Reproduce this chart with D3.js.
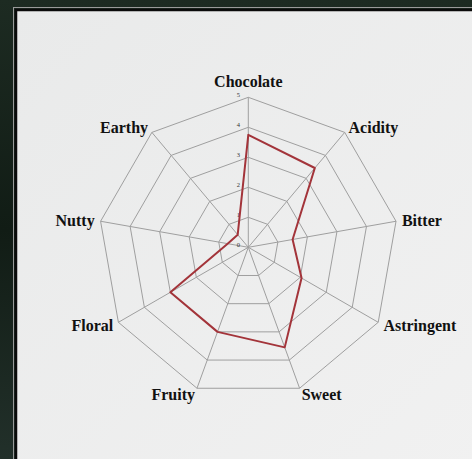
<!DOCTYPE html>
<html>
<head>
<meta charset="utf-8">
<script src="https://cdn.jsdelivr.net/npm/d3@7"></script>
<style>
  body { margin: 0; background: #17241c; }
  svg { display: block; }
</style>
</head>
<body>
<div id="radar"></div>
<script>
// flavour profile
const categories = ["Chocolate", "Acidity", "Bitter", "Astringent", "Sweet", "Fruity", "Floral", "Nutty", "Earthy"];
const values = [3.75, 3.45, 1.5, 2.05, 3.55, 3.0, 3.0, 0.7, 0.55];
const tickLabels = [0, 1, 2, 3, 4, 5];

var width = 472,
  height = 459,
  cx = 248.3,
  cy = 247.3;

var r = d3.scaleLinear().domain([0, 5]).range([0, 150]);
var angle = d3.scaleLinear().domain([0, categories.length]).range([0, 2 * Math.PI]);

const svg = d3.select("#radar")
  .append("svg")
  .attr("width", width)
  .attr("height", height);

// dark backdrop + light panel
const defs = svg.append("defs");
const bg = defs.append("linearGradient").attr("id", "bg").attr("x1", 0).attr("y1", 0).attr("x2", 0).attr("y2", 1);
bg.append("stop").attr("offset", "0%").attr("stop-color", "#1d2b22");
bg.append("stop").attr("offset", "50%").attr("stop-color", "#111c15");
bg.append("stop").attr("offset", "100%").attr("stop-color", "#22302a");
const pg = defs.append("linearGradient").attr("id", "panel").attr("x1", 0).attr("y1", 0).attr("x2", 1).attr("y2", 1);
pg.append("stop").attr("offset", "0%").attr("stop-color", "#e9eaea");
pg.append("stop").attr("offset", "100%").attr("stop-color", "#f1f1f1");

svg.append("rect").attr("width", width).attr("height", height).attr("fill", "url(#bg)");
svg.append("rect")
  .attr("x", 13.5).attr("y", 7.5)
  .attr("width", width).attr("height", height)
  .attr("fill", "none").attr("stroke", "#9a9a9a").attr("stroke-width", 1);
svg.append("rect")
  .attr("x", 16).attr("y", 10)
  .attr("width", width).attr("height", height)
  .attr("fill", "url(#panel)").attr("stroke", "#0a0a0a").attr("stroke-width", 2.5);

const g = svg.append("g").attr("transform", `translate(${cx},${cy})`);

var ring = d3.lineRadial()
  .angle((d, i) => angle(i))
  .radius(d => r(d))
  .curve(d3.curveLinearClosed);

// grid rings
g.selectAll(".ring")
  .data(tickLabels.slice(1))
  .enter()
  .append("path")
  .attr("d", v => ring(categories.map(() => v)))
  .attr("fill", "none")
  .attr("stroke", "#9f9f9f")
  .attr("stroke-width", 1);

// spokes
g.selectAll(".spoke")
  .data(categories)
  .enter()
  .append("line")
  .attr("x1", 0).attr("y1", 0)
  .attr("x2", (d, i) => r(5) * Math.sin(angle(i)))
  .attr("y2", (d, i) => -r(5) * Math.cos(angle(i)))
  .attr("stroke", "#9f9f9f")
  .attr("stroke-width", 1);

// tick numbers along the first axis
g.selectAll(".tick")
  .data(tickLabels)
  .enter()
  .append("text")
  .attr("x", -10)
  .attr("y", d => -r(d))
  .attr("dy", "-0.1em")
  .attr("text-anchor", "middle")
  .style("font-family", "Liberation Serif")
  .style("font-size", "6.5px")
  .style("fill", "#333")
  .text(d => d);

// data line
g.append("path")
  .attr("d", ring(values))
  .attr("fill", "none")
  .attr("stroke", "#a3343a")
  .attr("stroke-width", 2)
  .attr("stroke-linejoin", "round");

// axis labels
g.selectAll(".label")
  .data(categories)
  .enter()
  .append("text")
  .attr("x", (d, i) => (r(5) + 6) * Math.sin(angle(i)))
  .attr("y", (d, i) => i === 0 ? -r(5) - 16 : -(r(5) + 7) * Math.cos(angle(i)))
  .attr("dy", "0.35em")
  .attr("text-anchor", (d, i) => {
    var s = Math.sin(angle(i));
    return Math.abs(s) < 0.01 ? "middle" : (s > 0 ? "start" : "end");
  })
  .style("font-family", "Liberation Serif")
  .style("font-weight", "bold")
  .style("font-size", "16px")
  .style("fill", "#111")
  .text(d => d);
</script>
</body>
</html>
